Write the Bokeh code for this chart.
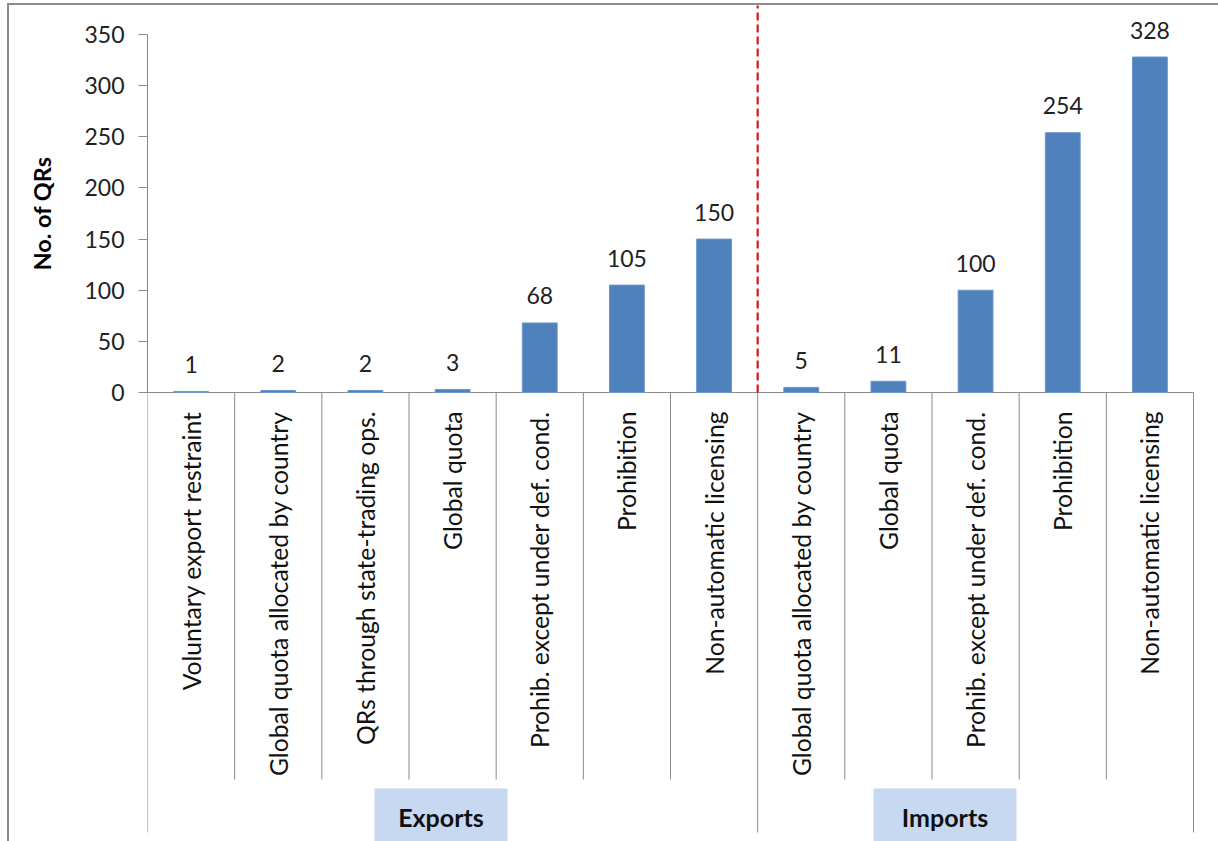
import math
from bokeh.plotting import figure
from bokeh.models import Range1d, FixedTicker, ColumnDataSource, Title, InlineStyleSheet
from bokeh.core.properties import value
from bokeh.embed import file_html
from bokeh.resources import INLINE

# ---------------- data ----------------
groups = ["Exports", "Imports"]
export_types = ["Voluntary export restraint", "Global quota allocated by country",
                "QRs through state-trading ops.", "Global quota",
                "Prohib. except under def. cond.", "Prohibition", "Non-automatic licensing"]
export_counts = [1, 2, 2, 3, 68, 105, 150]
import_types = ["Global quota allocated by country", "Global quota",
                "Prohib. except under def. cond.", "Prohibition", "Non-automatic licensing"]
import_counts = [5, 11, 100, 254, 328]
y_ticks = [0, 50, 100, 150, 200, 250, 300, 350]
y_title = "No. of QRs"

# ---------------- geometry (pixels) ----------------
W, H = 1218, 841
FRAME_LEFT = 147
Y0_PX, YMAX_PX = 392, 34
XR_PX = 1193
ymax = y_ticks[-1]
ppu = (Y0_PX - YMAX_PX) / ymax
types = export_types + import_types
counts = export_counts + import_counts
n = len(types)
xppu = (XR_PX - FRAME_LEFT) / n

y_start = -(H - Y0_PX) / ppu
y_end = ymax + YMAX_PX / ppu
x_end = n + (W - XR_PX) / xppu

def py(px):  # canvas px (from top) -> data y
    return (Y0_PX - px) / ppu

def px_x(px):
    return (px - FRAME_LEFT) / xppu

FONT = "Lato"
GREY = "#8a8a8a"

border_css = InlineStyleSheet(css="""
:host { position: relative; }
:host::after {
  content: "";
  position: absolute;
  left: 7px; top: 3px; right: 0px; bottom: 0px;
  border-left: 2.5px solid #8c8c8c;
  border-top: 2.5px solid #8c8c8c;
  pointer-events: none;
}
""")

p = figure(width=W, height=H, x_range=Range1d(0, x_end), y_range=Range1d(y_start, y_end),
           output_backend="svg", toolbar_location=None,
           min_border_left=FRAME_LEFT, min_border_right=0, min_border_top=0, min_border_bottom=0,
           x_axis_location=None, y_axis_location="left")
p.stylesheets = [border_css]
p.xgrid.visible = False
p.ygrid.visible = False
p.outline_line_color = None
p.background_fill_color = "white"
p.border_fill_color = "white"

ax = p.yaxis[0]
ax.bounds = (0, ymax)
ax.ticker = FixedTicker(ticks=y_ticks)
ax.axis_line_color = GREY
ax.major_tick_line_color = GREY
ax.major_tick_out = 9
ax.major_tick_in = 0
ax.minor_tick_line_color = None
ax.major_label_text_font = FONT
ax.major_label_text_font_size = "23px"
ax.major_label_text_color = "#222222"
ax.major_label_standoff = 14

# y-axis title (as a left-side title so it can sit level with the value axis)
p.add_layout(Title(text=y_title, align="right", offset=156, standoff=51,
                   text_font=FONT, text_font_style="bold", text_font_size="23.5px",
                   text_color="#000000"), "left")

xs = [i + 0.5 for i in range(n)]
src = ColumnDataSource(dict(x=xs, top=counts, label=[str(c) for c in counts], name=types))

# category axis line and separators
p.segment(x0=[0], y0=[0], x1=[n], y1=[0], line_color=GREY, line_width=1)
n_exp = len(export_types)
outer = [0, n_exp, n]
inner = [i for i in range(1, n) if i != n_exp]
inner_bottom = py(779)
outer_bottom = py(832)
p.segment(x0=inner, y0=[0] * len(inner), x1=inner, y1=[inner_bottom] * len(inner),
          line_color=GREY, line_width=1)
p.segment(x0=outer, y0=[0] * len(outer), x1=outer, y1=[outer_bottom] * len(outer),
          line_color=GREY, line_width=1)

# bars
p.vbar(x="x", top="top", bottom=0, width=0.4, source=src,
       fill_color="#4F81BD", line_color="#6d97cc", line_width=1)

# value labels
p.text(x="x", y="top", text="label", source=src, text_align="center",
       text_baseline="alphabetic", y_offset=-27, text_font=value(FONT),
       text_font_size="23px", text_color="#222222")

# category labels (rotated)
p.text(x="x", y=py(411), text="name", source=src, angle=math.pi / 2,
       text_align="right", text_baseline="middle", text_font=value(FONT),
       text_font_size="24.7px", text_color="#111111")

# red dashed divider
p.segment(x0=[n_exp], y0=[0], x1=[n_exp], y1=[py(5)], line_color="#D9161C",
          line_width=2.2, line_dash="8 4")

# group label boxes
box_left = [px_x(374), px_x(873)]
box_right = [px_x(507), px_x(1016)]
p.quad(left=box_left, right=box_right, top=[py(788)] * 2, bottom=[py(850)] * 2,
       fill_color="#C6D9F1", line_color=None)
p.text(x=[(a + b) / 2 for a, b in zip(box_left, box_right)], y=[py(816)] * 2, text=groups,
       text_align="center", text_baseline="middle", text_font=value(FONT),
       text_font_style="bold", text_font_size="25px", text_color="#111111")

open("out.html", "w").write(file_html(p, INLINE))
